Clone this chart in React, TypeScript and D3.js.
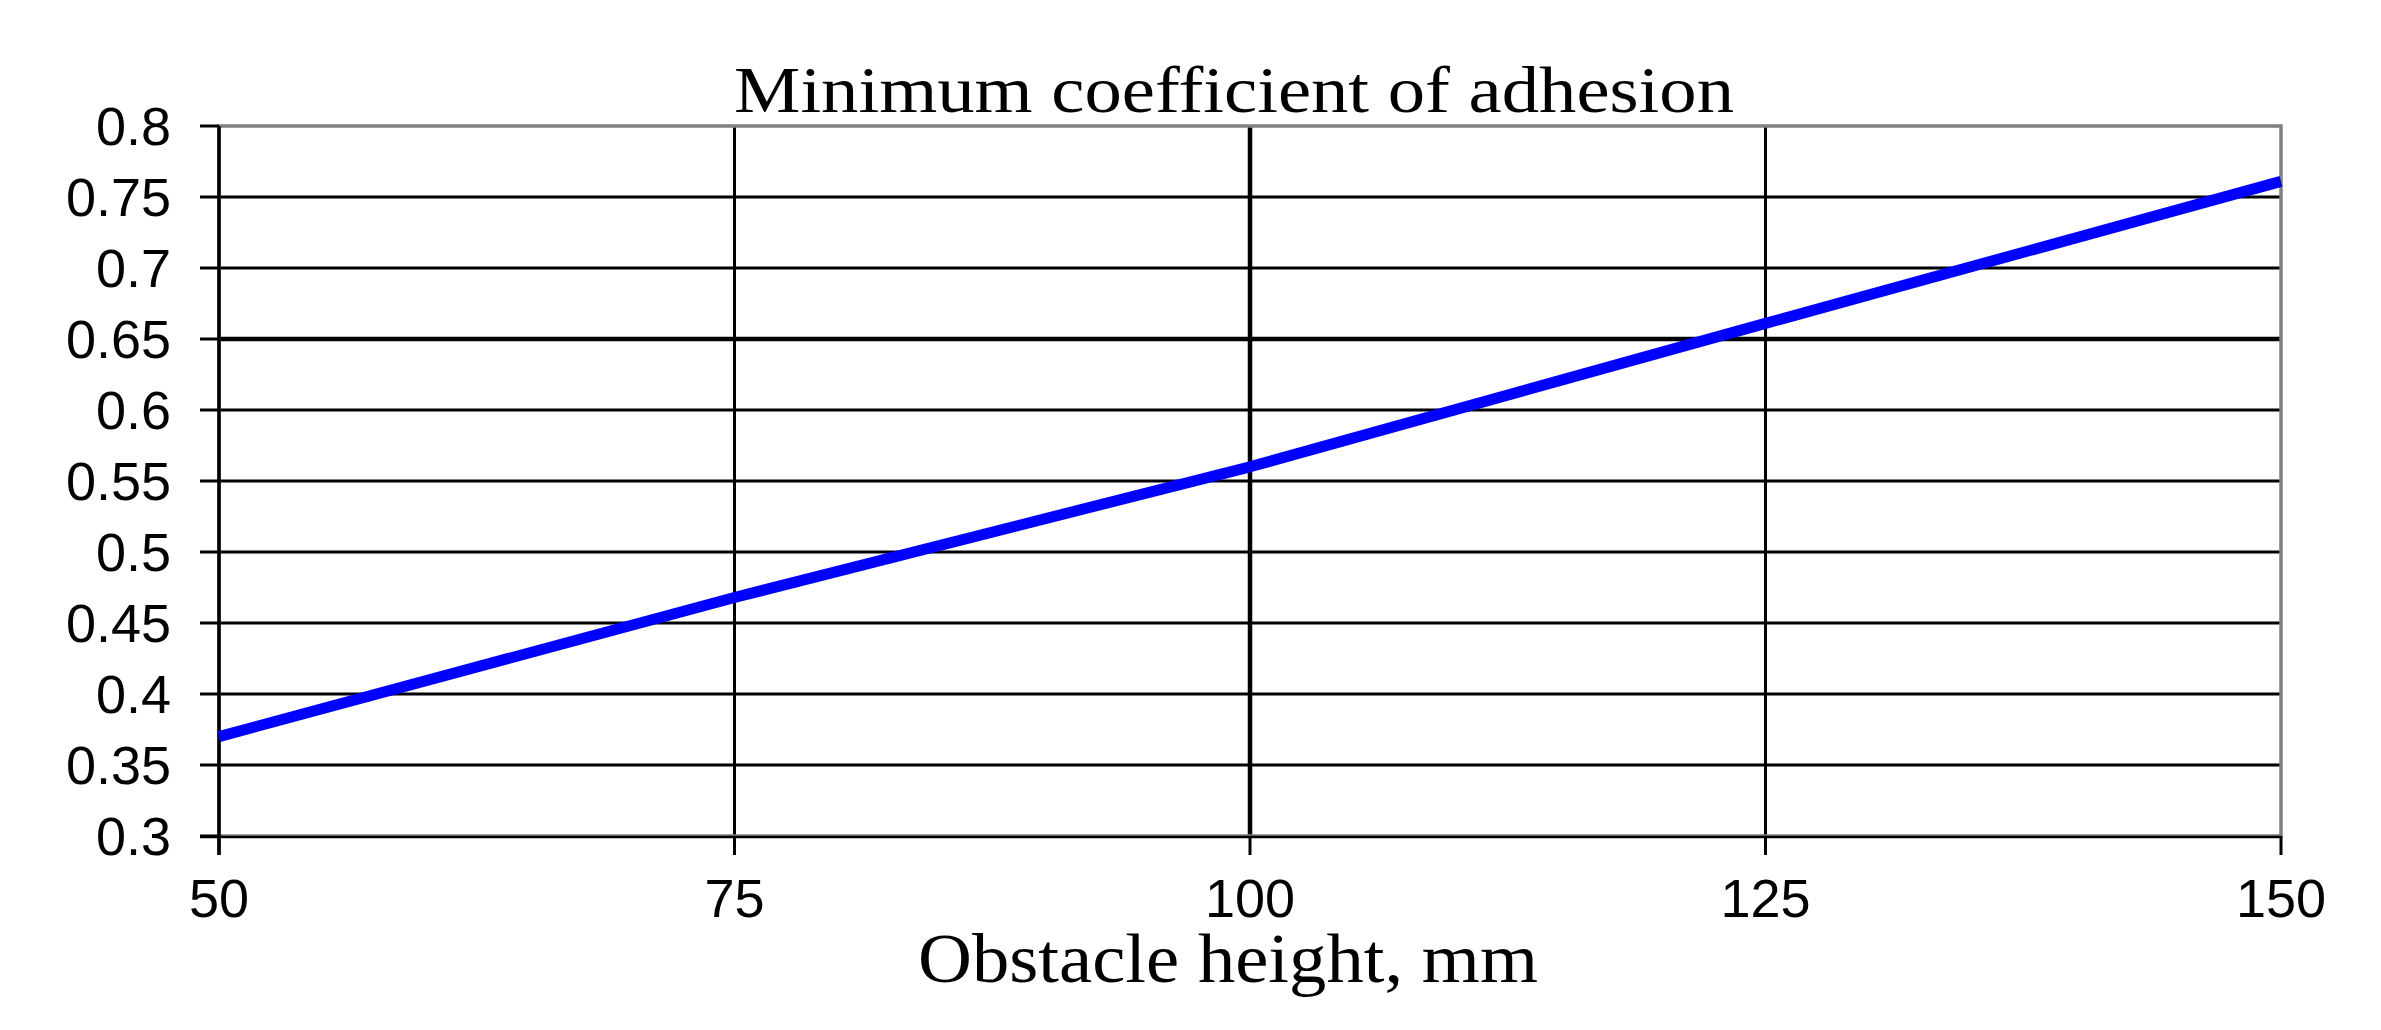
import React from 'react';
import * as d3 from 'd3';

// readings taken off the original figure
const heights = [50, 75, 100, 125, 150];
const adhesion = [0.37, 0.468, 0.56, 0.661, 0.761];
const xTicks = [50, 75, 100, 125, 150];
const yTicks = [0.3, 0.35, 0.4, 0.45, 0.5, 0.55, 0.6, 0.65, 0.7, 0.75, 0.8];
const boldY = [0.65];
const boldX = [100];

const W = 2381;
const H = 1030;
const plot = { left: 219, right: 2281, top: 126, bottom: 836 };

const App = () => {
    const x = d3.scaleLinear().domain([50, 150]).range([plot.left, plot.right]);
    const y = d3.scaleLinear().domain([0.3, 0.8]).range([plot.bottom, plot.top]);

    const line = d3.line<number>()
        .x((_, i) => x(heights[i]))
        .y(d => y(d));

    const sans = '"Liberation Sans", Arial, sans-serif';
    const serif = '"Liberation Serif", "Times New Roman", serif';

    return (
        <svg width={W} height={H} style={{ position: 'absolute', left: 0, top: 0, background: '#fff' }}>
            <rect x={0} y={0} width={W} height={H} fill="#fff" />

            {/* horizontal grid */}
            {yTicks.filter(v => v > 0.31 && v < 0.79).map(v => (
                <line key={'gy' + v} x1={plot.left} x2={plot.right} y1={y(v)} y2={y(v)}
                    stroke="#000" strokeWidth={boldY.includes(v) ? 4.5 : 3} />
            ))}
            {/* vertical grid */}
            {xTicks.filter(v => v > 50 && v < 150).map(v => (
                <line key={'gx' + v} x1={x(v)} x2={x(v)} y1={plot.top} y2={plot.bottom}
                    stroke="#000" strokeWidth={boldX.includes(v) ? 4.5 : 3} />
            ))}

            {/* plot border */}
            <rect x={plot.left} y={plot.top} width={plot.right - plot.left} height={plot.bottom - plot.top}
                fill="none" stroke="#808080" strokeWidth={3.5} />

            {/* axes */}
            <line x1={plot.left} x2={plot.left} y1={plot.top} y2={plot.bottom + 19} stroke="#000" strokeWidth={3.5} />
            <line x1={plot.left - 19} x2={plot.right} y1={plot.bottom + 1} y2={plot.bottom + 1} stroke="#000" strokeWidth={2.5} />

            {yTicks.map(v => (
                <g key={'ty' + v}>
                    <line x1={plot.left - 19} x2={plot.left} y1={y(v)} y2={y(v)} stroke="#000" strokeWidth={3} />
                    <text x={171} y={y(v)} dy="0.35em" textAnchor="end" fontFamily={sans} fontSize={54} fill="#000">
                        {String(v)}
                    </text>
                </g>
            ))}
            {xTicks.map(v => (
                <g key={'tx' + v}>
                    <line x1={x(v)} x2={x(v)} y1={plot.bottom} y2={plot.bottom + 19} stroke="#000" strokeWidth={3} />
                    <text x={x(v)} y={917} textAnchor="middle" fontFamily={sans} fontSize={54} fill="#000">
                        {String(v)}
                    </text>
                </g>
            ))}

            {/* series */}
            <path d={line(adhesion) || ''} fill="none" stroke="#0000ff" strokeWidth={11} strokeLinejoin="round" />

            {/* titles */}
            <text x={734} y={112} fontFamily={serif} fontSize={66} fill="#000"
                textLength={1000} lengthAdjust="spacingAndGlyphs">
                Minimum coefficient of adhesion
            </text>
            <text x={918} y={982} fontFamily={serif} fontSize={70} fill="#000"
                textLength={620} lengthAdjust="spacingAndGlyphs">
                Obstacle height, mm
            </text>
        </svg>
    );
};

export default App;
